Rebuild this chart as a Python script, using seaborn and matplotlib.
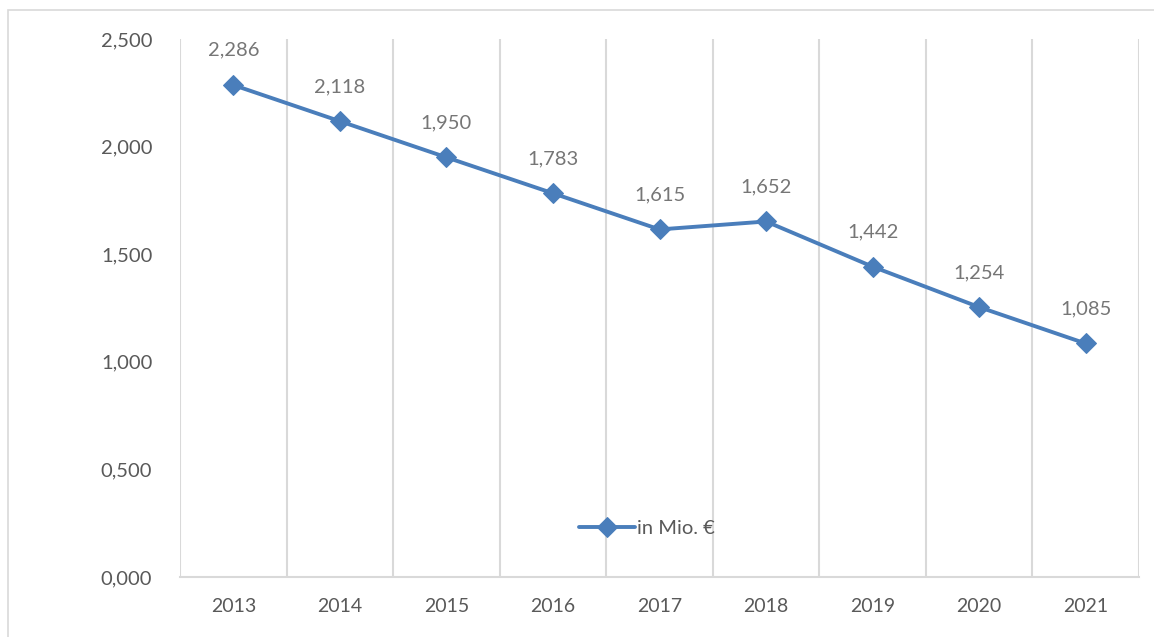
import matplotlib
matplotlib.use("Agg")
import matplotlib.pyplot as plt
import seaborn as sns
import pandas as pd
from matplotlib.patches import Rectangle
from matplotlib.ticker import FixedLocator, FuncFormatter

years = ["2013", "2014", "2015", "2016", "2017", "2018", "2019", "2020", "2021"]
values = [2.286, 2.118, 1.950, 1.783, 1.615, 1.652, 1.442, 1.254, 1.085]
series_name = "in Mio. €"
y_ticks = [0.0, 0.5, 1.0, 1.5, 2.0, 2.5]

sns.set_theme(style="white")
plt.rcParams["font.family"] = ["Lato", "DejaVu Sans"]

LINE = "#4A7EBB"
TEXT = "#595959"
LABEL = "#767676"
GRID = "#D9D9D9"

df = pd.DataFrame({"Jahr": years, "Wert": values})

fig = plt.figure(figsize=(11.54, 6.37), dpi=100)
ax = fig.add_axes([0.156, 0.0942, 0.831, 0.8446])

sns.lineplot(data=df, x="Jahr", y="Wert", ax=ax, color=LINE, linewidth=2.8,
             marker="D", markersize=10, markeredgecolor=LINE, label=series_name,
             sort=False)

def fmt(v):
    return f"{v:.3f}".replace(".", ",")

for i, v in enumerate(values):
    ax.annotate(fmt(v), (i, v), xytext=(0, 25), textcoords="offset points",
                ha="center", va="center", fontsize=14.5, color=LABEL)

ax.set_xlim(-0.5, len(years) - 0.5)
ax.set_ylim(0, 2.5)
ax.yaxis.set_major_locator(FixedLocator(y_ticks))
ax.yaxis.set_major_formatter(FuncFormatter(lambda v, p: fmt(v)))
ax.set_xlabel("")
ax.set_ylabel("")

# vertical separators between categories
for b in range(len(years) + 1):
    ax.axvline(b - 0.5, color=GRID, linewidth=1.5, zorder=0)

for s in ["top", "right", "left"]:
    ax.spines[s].set_visible(False)
ax.spines["bottom"].set_color(GRID)
ax.spines["bottom"].set_linewidth(1.5)

ax.tick_params(axis="y", length=0, pad=20, labelsize=14.5, labelcolor=TEXT)
ax.tick_params(axis="x", length=0, pad=15, labelsize=14, labelcolor=TEXT)

leg = ax.legend(loc="center", bbox_to_anchor=(0.487, 0.091), frameon=False,
                fontsize=14.5, handlelength=2.8, handletextpad=0.1)
for t in leg.get_texts():
    t.set_color(TEXT)

fig.patches.append(Rectangle((8 / 1154, -0.05), 1.1, 1 - 10 / 637 + 0.05,
                             transform=fig.transFigure, fill=False,
                             edgecolor=GRID, linewidth=1.2))

fig.savefig("out.png", dpi=100)
